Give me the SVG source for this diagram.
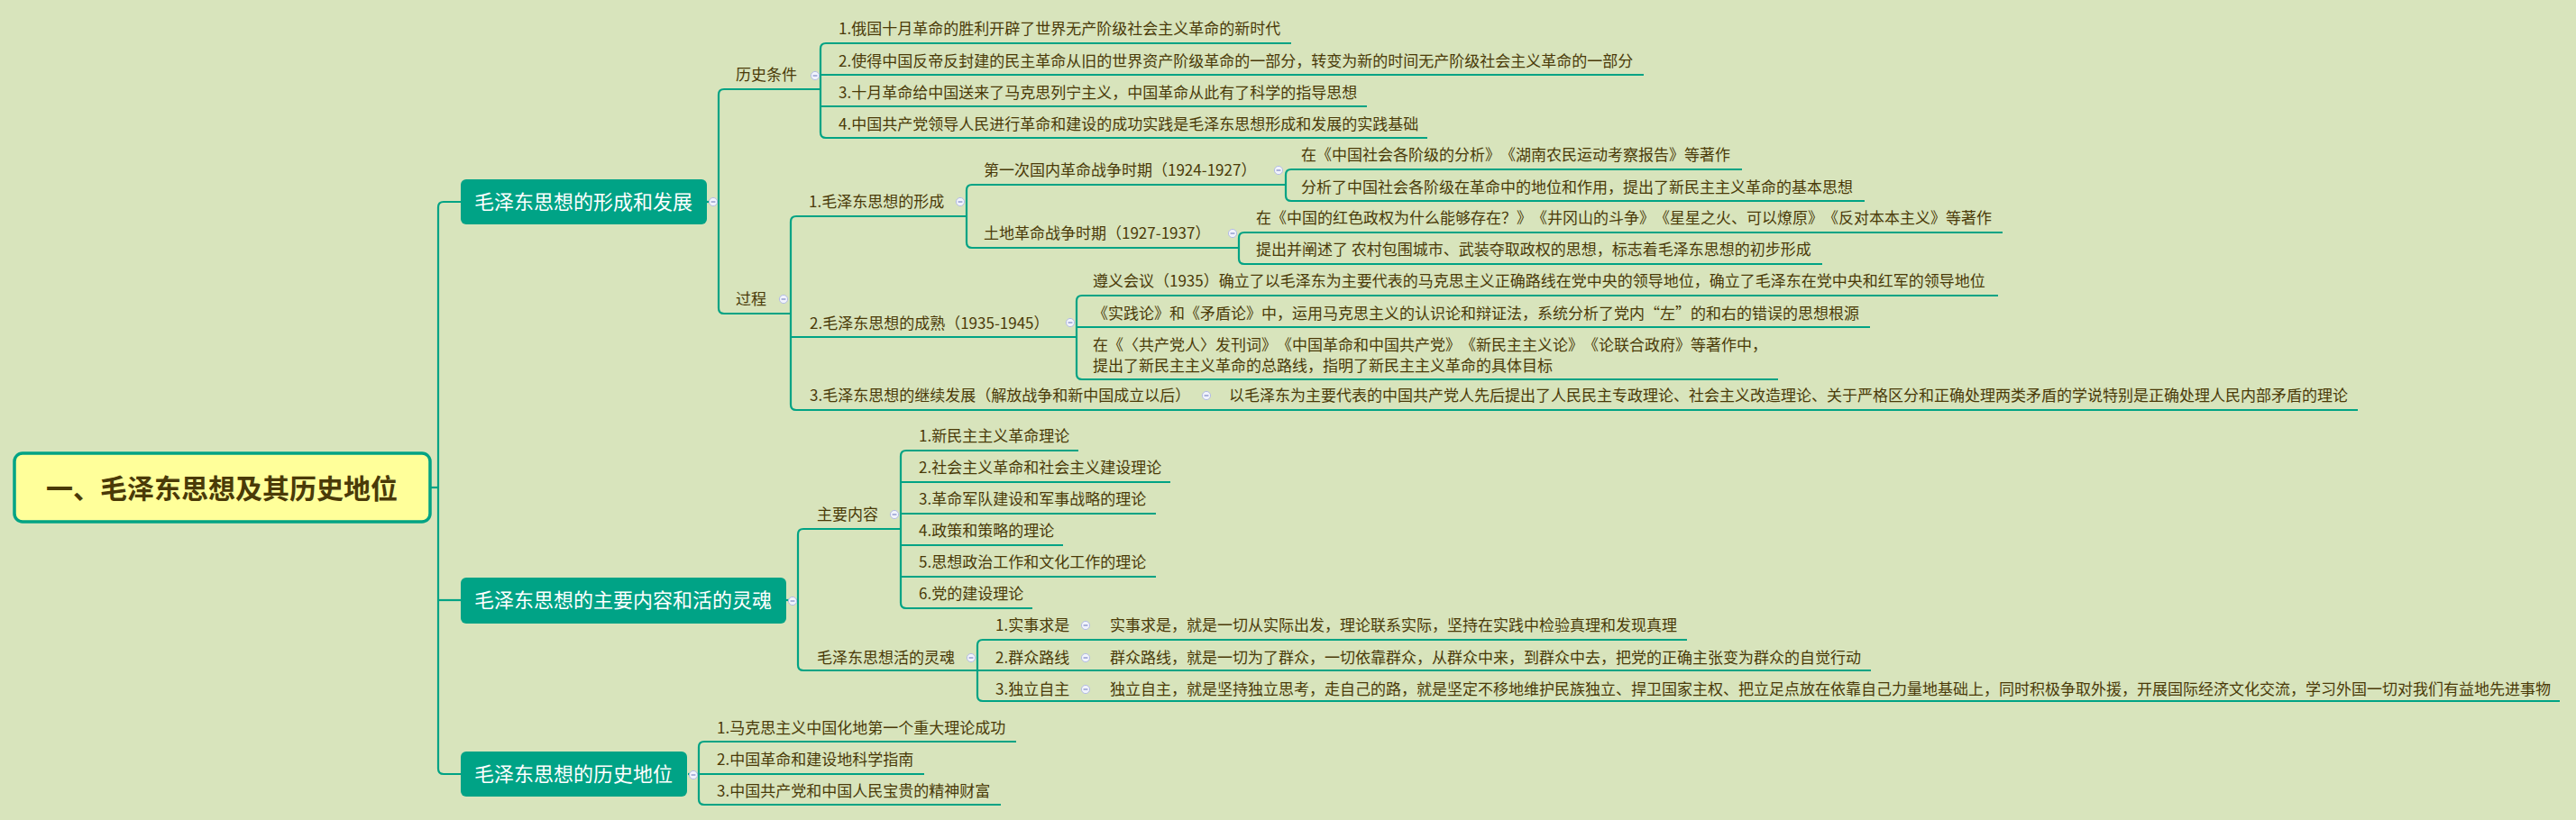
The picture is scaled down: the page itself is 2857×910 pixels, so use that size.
<svg xmlns="http://www.w3.org/2000/svg" width="2857" height="910" viewBox="0 0 2857 910">
<defs>
<style>
.bg{fill:#d8e4bc}
.ln{fill:none;stroke:#00a384;stroke-width:2.2;stroke-linecap:butt}
.t{font-family:"Noto Sans CJK SC","Noto Sans",sans-serif;font-size:17px;fill:#4a3a08;text-spacing-trim:space-all}
.l1{fill:#00a386}
.l1t{font-family:"Noto Sans CJK SC","Noto Sans",sans-serif;font-size:22px;fill:#ffffff}
.root{fill:#ffff9a;stroke:#00a384;stroke-width:3.5}
.rt{font-family:"Noto Sans CJK SC","Noto Sans",sans-serif;font-size:30px;font-weight:bold;fill:#4a3a08}
.bc{fill:#f1f3fc;stroke:#b4bce4;stroke-width:1}
.bm{stroke:#7d88c4;stroke-width:1.2}
</style>
<g id="btn"><circle class="bc" cx="0" cy="0" r="4.6"/><line class="bm" x1="-2.4" y1="0" x2="2.4" y2="0"/></g>
</defs>
<rect class="bg" x="0" y="0" width="2857" height="910"/>

<g id="connectors">
<path class="ln" d="M477 541 H486"/>
<path class="ln" d="M511 224 H492 Q486 224 486 230 V853 Q486 859 492 859 H511"/>
<path class="ln" d="M486 666 H511"/>
<path class="ln" d="M784 224 H797"/>
<path class="ln" d="M910 99 H803 Q797 99 797 105 V342 Q797 348 803 348 H877"/>
<path class="ln" d="M1432 48 H916 Q910 48 910 54 V147 Q910 153 916 153 H1583"/>
<path class="ln" d="M910 83 H1823"/>
<path class="ln" d="M910 118 H1516"/>
<path class="ln" d="M1072 240 H883 Q877 240 877 246 V449 Q877 455 883 455 H2615"/>
<path class="ln" d="M877 374 H1194"/>
<path class="ln" d="M1426 205 H1078 Q1072 205 1072 211 V269 Q1072 275 1078 275 H1374"/>
<path class="ln" d="M1932 188 H1432 Q1426 188 1426 194 V217 Q1426 223 1432 223 H2068"/>
<path class="ln" d="M2221 258 H1380 Q1374 258 1374 264 V287 Q1374 293 1380 293 H2021"/>
<path class="ln" d="M2216 328 H1200 Q1194 328 1194 334 V415 Q1194 421 1200 421 H1972"/>
<path class="ln" d="M1194 363 H2074"/>
<path class="ln" d="M872 666 H885"/>
<path class="ln" d="M999 587 H891 Q885 587 885 593 V738 Q885 744 891 744 H1084"/>
<path class="ln" d="M1196 500 H1005 Q999 500 999 506 V669 Q999 675 1005 675 H1145"/>
<path class="ln" d="M999 535 H1298 M999 570 H1282 M999 605 H1179 M999 640 H1282"/>
<path class="ln" d="M1871 710 H1090 Q1084 710 1084 716 V772 Q1084 778 1090 778 H2839"/>
<path class="ln" d="M1084 744 H2075"/>
<path class="ln" d="M763 859 H775"/>
<path class="ln" d="M1127 823 H781 Q775 823 775 829 V887 Q775 893 781 893 H1110"/>
<path class="ln" d="M775 859 H1025"/>
</g>

<g id="root">
<rect class="root" x="16" y="503" width="461" height="76" rx="9"/>
<text class="rt" x="51" y="553">一、毛泽东思想及其历史地位</text>
</g>

<g id="n1">
<rect class="l1" x="511" y="199" width="273" height="50" rx="6"/>
<text class="l1t" x="526" y="232">毛泽东思想的形成和发展</text>
<use href="#btn" x="791" y="224"/>
</g>
<g id="n1-1">
<text class="t" x="816" y="89">历史条件</text>
<use href="#btn" x="904" y="84"/>
</g>
<g id="n1-1-1"><text class="t" x="930" y="38">1.俄国十月革命的胜利开辟了世界无产阶级社会主义革命的新时代</text></g>
<g id="n1-1-2"><text class="t" x="930" y="74">2.使得中国反帝反封建的民主革命从旧的世界资产阶级革命的一部分，转变为新的时间无产阶级社会主义革命的一部分</text></g>
<g id="n1-1-3"><text class="t" x="930" y="109">3.十月革命给中国送来了马克思列宁主义，中国革命从此有了科学的指导思想</text></g>
<g id="n1-1-4"><text class="t" x="930" y="144">4.中国共产党领导人民进行革命和建设的成功实践是毛泽东思想形成和发展的实践基础</text></g>
<g id="n1-2">
<text class="t" x="816" y="338">过程</text>
<use href="#btn" x="869" y="332"/>
</g>
<g id="n1-2-1">
<text class="t" x="897" y="230">1.毛泽东思想的形成</text>
<use href="#btn" x="1065" y="224"/>
</g>
<g id="n1-2-1-1">
<text class="t" x="1091" y="195">第一次国内革命战争时期（1924-1927）</text>
<use href="#btn" x="1418" y="189"/>
</g>
<g id="n1-2-1-1-1"><text class="t" x="1443" y="178">在《中国社会各阶级的分析》《湖南农民运动考察报告》等著作</text></g>
<g id="n1-2-1-1-2"><text class="t" x="1443" y="214">分析了中国社会各阶级在革命中的地位和作用，提出了新民主主义革命的基本思想</text></g>
<g id="n1-2-1-2">
<text class="t" x="1091" y="265">土地革命战争时期（1927-1937）</text>
<use href="#btn" x="1367" y="259"/>
</g>
<g id="n1-2-1-2-1"><text class="t" x="1393" y="248">在《中国的红色政权为什么能够存在？》《井冈山的斗争》《星星之火、可以燎原》《反对本本主义》等著作</text></g>
<g id="n1-2-1-2-2"><text class="t" x="1393" y="283">提出并阐述了 农村包围城市、武装夺取政权的思想，标志着毛泽东思想的初步形成</text></g>
<g id="n1-2-2">
<text class="t" x="898" y="365">2.毛泽东思想的成熟（1935-1945）</text>
<use href="#btn" x="1187" y="358"/>
</g>
<g id="n1-2-2-1"><text class="t" x="1212" y="318">遵义会议（1935）确立了以毛泽东为主要代表的马克思主义正确路线在党中央的领导地位，确立了毛泽东在党中央和红军的领导地位</text></g>
<g id="n1-2-2-2"><text class="t" x="1212" y="354">《实践论》和《矛盾论》中，运用马克思主义的认识论和辩证法，系统分析了党内“左”的和右的错误的思想根源</text></g>
<g id="n1-2-2-3"><text class="t" x="1212" y="389">在《〈共产党人〉发刊词》《中国革命和中国共产党》《新民主主义论》《论联合政府》等著作中，</text><text class="t" x="1212" y="412">提出了新民主主义革命的总路线，指明了新民主主义革命的具体目标</text></g>
<g id="n1-2-3">
<text class="t" x="898" y="445">3.毛泽东思想的继续发展（解放战争和新中国成立以后）</text>
<use href="#btn" x="1338" y="439"/>
</g>
<g id="n1-2-3-1"><text class="t" x="1363" y="445">以毛泽东为主要代表的中国共产党人先后提出了人民民主专政理论、社会主义改造理论、关于严格区分和正确处理两类矛盾的学说特别是正确处理人民内部矛盾的理论</text></g>

<g id="n2">
<rect class="l1" x="511" y="641" width="361" height="51" rx="6"/>
<text class="l1t" x="526" y="674">毛泽东思想的主要内容和活的灵魂</text>
<use href="#btn" x="879" y="667"/>
</g>
<g id="n2-1">
<text class="t" x="906" y="577">主要内容</text>
<use href="#btn" x="992" y="571"/>
</g>
<g id="n2-1-1"><text class="t" x="1019" y="490">1.新民主主义革命理论</text></g>
<g id="n2-1-2"><text class="t" x="1019" y="525">2.社会主义革命和社会主义建设理论</text></g>
<g id="n2-1-3"><text class="t" x="1019" y="560">3.革命军队建设和军事战略的理论</text></g>
<g id="n2-1-4"><text class="t" x="1019" y="595">4.政策和策略的理论</text></g>
<g id="n2-1-5"><text class="t" x="1019" y="630">5.思想政治工作和文化工作的理论</text></g>
<g id="n2-1-6"><text class="t" x="1019" y="665">6.党的建设理论</text></g>
<g id="n2-2">
<text class="t" x="906" y="736">毛泽东思想活的灵魂</text>
<use href="#btn" x="1077" y="730"/>
</g>
<g id="n2-2-1">
<text class="t" x="1104" y="700">1.实事求是</text>
<use href="#btn" x="1204" y="694"/>
<text class="t" x="1231" y="700">实事求是，就是一切从实际出发，理论联系实际，坚持在实践中检验真理和发现真理</text>
</g>
<g id="n2-2-2">
<text class="t" x="1104" y="736">2.群众路线</text>
<use href="#btn" x="1204" y="730"/>
<text class="t" x="1231" y="736">群众路线，就是一切为了群众，一切依靠群众，从群众中来，到群众中去，把党的正确主张变为群众的自觉行动</text>
</g>
<g id="n2-2-3">
<text class="t" x="1104" y="771">3.独立自主</text>
<use href="#btn" x="1204" y="765"/>
<text class="t" x="1231" y="771">独立自主，就是坚持独立思考，走自己的路，就是坚定不移地维护民族独立、捍卫国家主权、把立足点放在依靠自己力量地基础上，同时积极争取外援，开展国际经济文化交流，学习外国一切对我们有益地先进事物</text>
</g>

<g id="n3">
<rect class="l1" x="511" y="834" width="251" height="50" rx="6"/>
<text class="l1t" x="526" y="867">毛泽东思想的历史地位</text>
<use href="#btn" x="769" y="860"/>
</g>
<g id="n3-1"><text class="t" x="795" y="814">1.马克思主义中国化地第一个重大理论成功</text></g>
<g id="n3-2"><text class="t" x="795" y="849">2.中国革命和建设地科学指南</text></g>
<g id="n3-3"><text class="t" x="795" y="884">3.中国共产党和中国人民宝贵的精神财富</text></g>
</svg>
